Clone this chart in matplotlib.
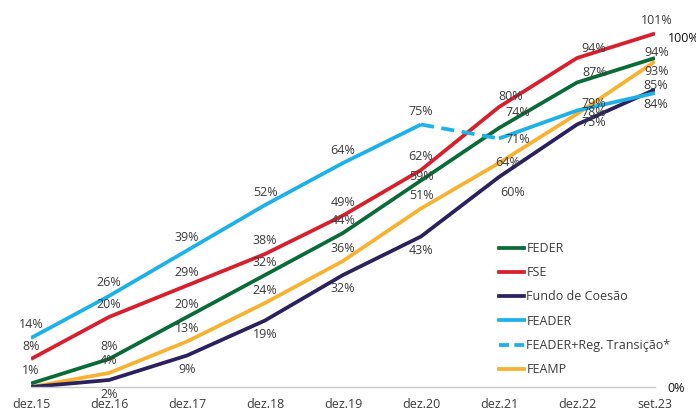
import numpy as np
import matplotlib
matplotlib.use("Agg")
import matplotlib.pyplot as plt
from matplotlib.lines import Line2D

plt.rcParams['font.family'] = ['Open Sans', 'DejaVu Sans']

periods = ['dez.15', 'dez.16', 'dez.17', 'dez.18', 'dez.19', 'dez.20', 'dez.21', 'dez.22', 'set.23']
feder = [1, 8, 20, 32, 44, 59, 74, 87, 94]
fse = [8, 20, 29, 38, 49, 62, 80, 94, 101]
coesao = [0, 2, 9, 19, 32, 43, 60, 75, 85]
feader = [14, 26, 39, 52, 64, 75, 71, 79, 84]
feamp = [0, 4, 13, 24, 36, 51, 64, 78, 93]
# FEADER+Reg. Transição* is the dashed piece between these two points
trans_from, trans_to = 5, 6

c_feder = '#0b6b38'
c_fse = '#d81f2d'
c_coesao = '#2b215c'
c_feader = '#1cb1e9'
c_feamp = '#f8b232'
txt = '#3c3c3c'
lw = 2.7

fig = plt.figure(figsize=(6.96, 4.08), dpi=100)
ax = fig.add_axes([31/696, 21/408, (655-31)/696, 385/408])
x = np.arange(len(periods))

ax.plot(x, feamp, color=c_feamp, lw=lw, solid_capstyle='butt', zorder=2)
ax.plot(x, coesao, color=c_coesao, lw=lw, solid_capstyle='butt', zorder=2)
ax.plot(x, feder, color=c_feder, lw=lw, solid_capstyle='butt', zorder=3)
ax.plot(x, fse, color=c_fse, lw=lw, solid_capstyle='butt', zorder=3)
ax.plot(x[:trans_from+1], feader[:trans_from+1], color=c_feader, lw=lw,
        solid_capstyle='butt', zorder=4)
ax.plot(x[trans_from:trans_to+1], feader[trans_from:trans_to+1], color=c_feader,
        lw=lw, dashes=(3.5, 2), zorder=4)
ax.plot(x[trans_to:], feader[trans_to:], color=c_feader, lw=lw,
        solid_capstyle='butt', zorder=4)

# value labels (offsets in pixels)
series = {'FEDER': feder, 'FSE': fse, 'FC': coesao, 'FEADER': feader, 'FEAMP': feamp}
default_dy = {'FEDER': 13, 'FSE': 13, 'FC': -14, 'FEADER': 13, 'FEAMP': 13}
special = {
    ('FEDER', 5): (0, 4),
    ('FSE', 6): (12, 10), ('FEDER', 6): (19, 16), ('FEADER', 6): (19, -1),
    ('FEAMP', 6): (9, 0), ('FC', 6): (14, -15),
    ('FSE', 7): (17, 9), ('FEDER', 7): (18, 10), ('FEADER', 7): (17, 7),
    ('FEAMP', 7): (17, 1), ('FC', 7): (17, 2),
    ('FSE', 8): (2, 13), ('FEDER', 8): (2, 6), ('FEAMP', 8): (2, -10),
    ('FC', 8): (1, 4), ('FEADER', 8): (1, -12),
}
for name, vals in series.items():
    for i, v in enumerate(vals):
        if v == 0:
            continue
        dx, dy = special.get((name, i), (0, default_dy[name]))
        ax.annotate(f'{v}%', (i, v), xytext=(dx, dy), textcoords='offset pixels',
                    ha='center', va='center', fontsize=9, color=txt, zorder=6)

ax.set_xlim(0, len(periods) - 1)
ax.set_ylim(0, 110)
ax.set_xticks(x)
ax.set_xticklabels(periods, fontsize=9, color=txt)
ax.tick_params(axis='x', length=0, pad=8)
ax.yaxis.tick_right()
ax.set_yticks([0, 100])
ax.set_yticklabels(['0%', '100%'], fontsize=9, color='#111111')
ax.tick_params(axis='y', length=0, pad=9)
for s in ['top', 'left', 'right']:
    ax.spines[s].set_visible(False)
ax.spines['bottom'].set_color('#c8c8c8')
ax.spines['bottom'].set_linewidth(1)
ax.set_facecolor('none')

handles = [
    Line2D([], [], color=c_feder, lw=lw),
    Line2D([], [], color=c_fse, lw=lw),
    Line2D([], [], color=c_coesao, lw=lw),
    Line2D([], [], color=c_feader, lw=lw),
    Line2D([], [], color=c_feader, lw=lw, dashes=(2.7, 1.4)),
    Line2D([], [], color=c_feamp, lw=lw),
]
labels = ['FEDER', 'FSE', 'Fundo de Coesão', 'FEADER', 'FEADER+Reg. Transição*', 'FEAMP']
leg = fig.legend(handles, labels, loc='upper left', bbox_to_anchor=(499/696, 1 - 242/408),
                 frameon=False, fontsize=9, handlelength=2.0, handletextpad=0.2,
                 labelspacing=0.9, borderpad=0, borderaxespad=0)
for t in leg.get_texts():
    t.set_color(txt)

fig.savefig('out.png', dpi=100)
